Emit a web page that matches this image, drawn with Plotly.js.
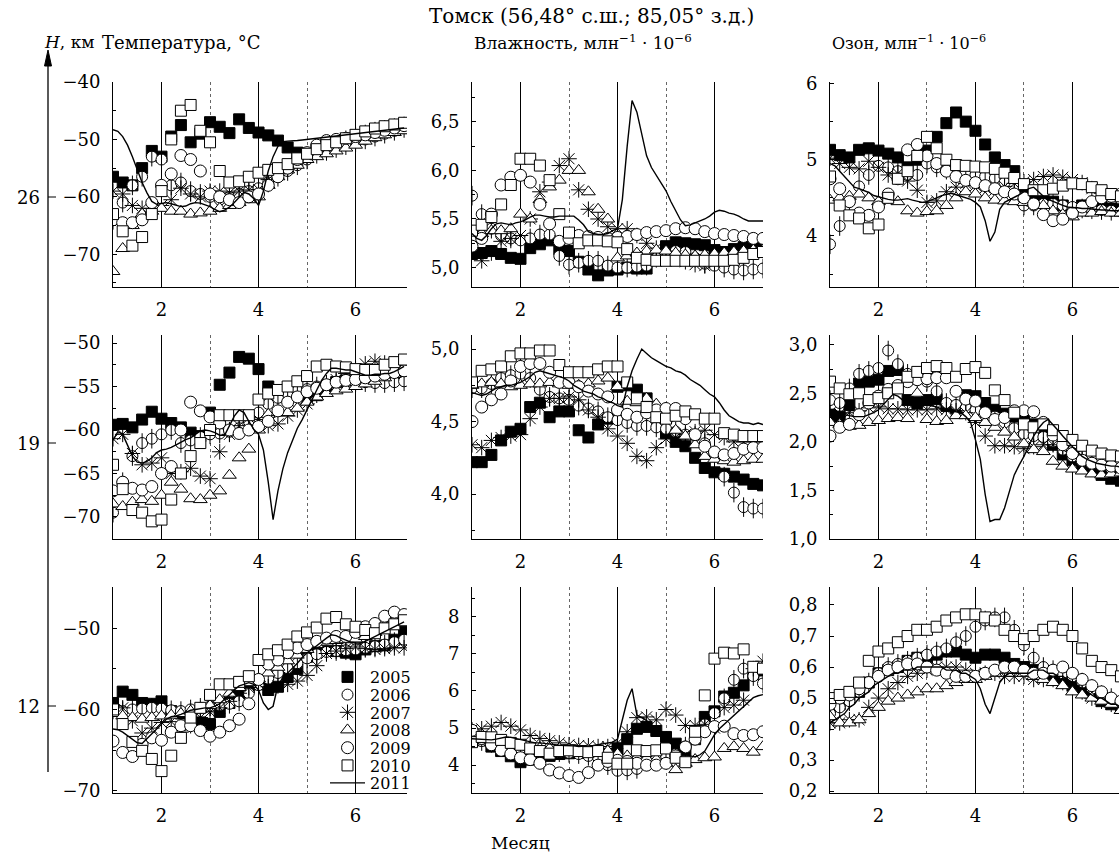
<!DOCTYPE html>
<html>
<head>
<meta charset="utf-8">
<script src="https://cdn.plot.ly/plotly-3.0.1.min.js"></script>
<style>html,body{margin:0;padding:0;background:#fff}#chart{width:1119px;height:854px}</style>
</head>
<body>
<div id="chart"></div>
<script>
// ---------- DATA ----------
const X = [1,1.2,1.4,1.6,1.8,2,2.2,2.4,2.6,2.8,3,3.2,3.4,3.6,3.8,4,4.2,4.4,4.6,4.8,5,5.2,5.4,5.6,5.8,6,6.2,6.4,6.6,6.8,7];
const XL = [1,1.1,1.2,1.3,1.4,1.5,1.6,1.7,1.8,1.9,2,2.1,2.2,2.3,2.4,2.5,2.6,2.7,2.8,2.9,3,3.1,3.2,3.3,3.4,3.5,3.6,3.7,3.8,3.9,4,4.1,4.2,4.3,4.4,4.5,4.6,4.7,4.8,4.9,5,5.1,5.2,5.3,5.4,5.5,5.6,5.7,5.8,5.9,6,6.1,6.2,6.3,6.4,6.5,6.6,6.7,6.8,6.9,7];
const YEARS = ['2005','2006','2007','2008','2009','2010','2011'];

// Temperature, 26 km
const t1_05 = [-56.5,-57.5,-58,-55,-52,-53,-49.5,-47.5,-50.5,-49,-47,-47.8,-48.9,-46.5,-48,-48.8,-49.3,-50.2,-51.4,-52.3,-52.5,-52,-51.5,-51,-50.5,-50,-49.5,-49,-48.7,-48.3,-48];
const t1_06 = [-64,-61,-58,-56.5,-53,-53.5,-58,-57.5,-59,-59.5,-60,-60.5,-60,-59.5,-59,-58.5,-57.5,-56.5,-55.5,-54.5,-53.5,-52.5,-52,-51.5,-51,-50.5,-50,-49.5,-49,-48.5,-48];
const t1_07 = [-59,-59.5,-61.5,-62,-62,-61.5,-60.5,-58.5,-59.5,-60,-59,-59,-59.3,-59,-58.8,-58.7,-57,-56,-55,-54,-53,-52.2,-51.3,-50.5,-49.8,-49.2,-48.8,-48.3,-48,-47.7,-47.4];
const t1_08 = [-73,-69,-65,-63,-62.5,-62,-62.5,-62.5,-63,-62.8,-62.5,-62,-61.5,-61,-60.5,-60,-58,-56.5,-55.3,-54.5,-53.5,-53,-52.5,-52,-51.5,-51,-50.3,-49.7,-49.2,-48.8,-48.5];
const t1_09 = [-64,-64.5,-64.5,-64,-61,-58,-56,-52.8,-53.5,-55.5,-59.5,-60,-60.5,-61,-60,-59.5,-58,-56.5,-55,-53.5,-52.3,-51,-50.2,-50,-49.8,-49.5,-49.2,-48.8,-48.4,-48,-47.6];
const t1_10 = [-63,-66,-68.5,-67,-63,-59,-50,-45,-44,-48.5,-50.5,-55.5,-57.5,-57.3,-56.5,-55.8,-55.3,-55,-54.3,-53.3,-52.5,-51.7,-51,-50.5,-49.8,-49.2,-48.6,-48.1,-47.7,-47.4,-47.1];
const t1_11 = [-48.3,-48.6,-49.5,-51,-53,-55.3,-57.5,-59.3,-60.8,-61.3,-61.2,-61,-61.2,-61.5,-61.7,-61.6,-61.2,-61,-61.1,-61.4,-61.7,-62.2,-62.6,-62.3,-61.8,-61,-60,-59.2,-59.5,-60.3,-61.5,-59,-55.5,-53,-51.2,-50.4,-50.3,-50.3,-50.2,-50.1,-50,-49.9,-49.8,-49.7,-49.6,-49.5,-49.4,-49.3,-49.2,-49.1,-49,-48.9,-48.8,-48.7,-48.6,-48.5,-48.4,-48.3,-48.2,-48.1,-48];

// Humidity, 26 km
const h1_05 = [5.14,5.15,5.17,5.14,5.1,5.09,5.2,5.24,5.28,5.19,5.17,5.06,4.98,4.92,4.97,4.98,5.0,4.99,4.99,5.1,5.22,5.26,5.25,5.24,5.23,5.18,5.16,5.19,5.21,5.22,5.2];
const h1_06 = [5.74,5.55,5.4,5.33,5.3,5.28,5.3,5.34,5.34,5.12,5.03,5.05,5.07,5.07,5.02,5.0,5.0,5.01,5.02,5.1,5.15,5.17,5.16,5.1,5.04,5.02,5.0,4.98,4.97,4.98,4.99];
const h1_07 = [5.2,5.07,5.15,5.27,5.3,5.33,5.5,5.78,5.88,6.05,6.12,5.8,5.6,5.5,5.42,5.4,5.4,5.33,5.25,5.2,5.17,5.12,5.06,5.03,5.02,5.05,5.1,5.13,5.15,5.18,5.2];
const h1_08 = [5.3,5.35,5.38,5.38,5.4,5.55,5.5,5.7,5.83,5.9,6.0,6.0,5.78,5.6,5.5,5.1,5.12,5.15,5.17,5.18,5.17,5.15,5.13,5.12,5.13,5.14,5.15,5.16,5.17,5.18,5.18];
const h1_09 = [5.22,5.3,5.55,5.85,5.93,5.95,5.88,5.65,5.45,5.27,5.3,5.33,5.32,5.31,5.3,5.31,5.32,5.34,5.36,5.37,5.38,5.4,5.41,5.4,5.37,5.35,5.34,5.33,5.32,5.3,5.3];
const h1_10 = [5.38,5.44,5.52,5.65,5.85,6.12,6.12,6.05,5.9,5.55,5.36,5.25,5.28,5.28,5.27,5.26,5.19,5.1,5.08,5.07,5.07,5.07,5.07,5.07,5.07,5.07,5.07,5.08,5.1,5.14,5.16];
const h1_11 = [5.35,5.3,5.28,5.33,5.4,5.45,5.46,5.45,5.44,5.46,5.47,5.49,5.52,5.54,5.54,5.53,5.52,5.52,5.53,5.53,5.53,5.53,5.49,5.44,5.37,5.35,5.34,5.34,5.35,5.38,5.4,5.7,6.25,6.72,6.6,6.38,6.15,6.03,5.95,5.87,5.79,5.68,5.58,5.49,5.43,5.44,5.46,5.48,5.5,5.53,5.57,5.59,5.58,5.56,5.55,5.53,5.5,5.48,5.48,5.48,5.48];

// Ozone, 26 km
const o1_05 = [5.13,5.06,5.03,5.13,5.15,5.12,5.08,5.03,4.9,5.0,5.12,5.3,5.48,5.62,5.5,5.38,5.2,5.03,4.93,4.85,4.6,4.52,4.48,4.45,4.4,4.33,4.4,4.4,4.38,4.36,4.35];
const o1_06 = [3.89,4.13,4.45,4.65,4.8,4.92,4.9,4.85,4.8,4.8,4.95,4.9,4.87,4.84,4.82,4.8,4.78,4.76,4.7,4.55,4.4,4.4,4.42,4.42,4.4,4.38,4.36,4.35,4.34,4.33,4.32];
const o1_07 = [5.02,4.95,4.9,4.88,4.98,4.9,4.8,4.82,4.72,4.6,4.44,4.46,4.58,4.64,4.69,4.66,4.63,4.6,4.65,4.69,4.71,4.74,4.78,4.8,4.77,4.74,4.7,4.62,4.56,4.52,4.5];
const o1_08 = [4.47,4.5,4.52,4.55,4.5,4.45,4.48,4.45,4.33,4.3,4.32,4.33,4.4,4.5,4.58,4.55,4.5,4.47,4.46,4.45,4.44,4.43,4.4,4.33,4.28,4.25,4.3,4.3,4.32,4.3,4.3];
const o1_09 = [4.75,4.62,4.45,4.3,4.27,4.38,4.55,4.75,5.13,5.2,5.05,4.95,4.85,4.78,4.73,4.7,4.66,4.62,4.58,4.55,4.5,4.42,4.28,4.2,4.22,4.3,4.38,4.45,4.5,4.52,4.55];
const o1_10 = [4.78,4.4,4.27,4.23,4.1,4.15,4.5,4.75,4.85,5.05,5.3,5.15,5.0,4.93,4.92,4.91,4.9,4.88,4.83,4.76,4.68,4.6,4.6,4.62,4.66,4.69,4.68,4.64,4.6,4.55,4.52];
const o1_11 = [4.95,4.92,4.85,4.78,4.7,4.64,4.62,4.6,4.57,4.53,4.51,4.5,4.48,4.47,4.47,4.48,4.49,4.47,4.45,4.44,4.45,4.47,4.5,4.53,4.55,4.56,4.54,4.52,4.51,4.48,4.44,4.38,4.2,3.93,4.05,4.35,4.44,4.47,4.5,4.54,4.58,4.62,4.64,4.58,4.52,4.48,4.45,4.42,4.4,4.38,4.37,4.37,4.36,4.36,4.35,4.35,4.34,4.34,4.33,4.33,4.33];

// Temperature, 19 km
const t2_05 = [-59.4,-59.3,-59.7,-58.8,-57.9,-58.7,-59.2,-59.7,-60.3,-60.7,-58,-54.8,-53.4,-51.6,-51.8,-53,-55,-55.5,-55.8,-56,-56.2,-56,-55.2,-54.5,-54.3,-54.2,-54.1,-54,-53.9,-53.9,-53.8];
const t2_06 = [-69.5,-66,-63,-61.5,-61,-60.5,-60,-61.5,-61.2,-60.8,-60.5,-60.4,-60.2,-59.8,-59,-58,-57,-56.3,-55.8,-55.5,-55.3,-55,-54.8,-54.6,-54.5,-54.5,-54.5,-54.6,-54.6,-54.5,-54.4];
const t2_07 = [-61,-60.5,-62.7,-64,-63.8,-63.2,-65,-64.8,-64.4,-65.3,-65.6,-62.5,-60.5,-59.5,-58.6,-58.8,-59.5,-59.3,-58.4,-57.7,-57,-56,-55,-54.2,-53.5,-53,-52.4,-52.1,-52.3,-52.8,-53];
const t2_08 = [-68.5,-68.8,-68.3,-68,-68.2,-67.5,-66,-66.8,-67.9,-68,-67.5,-67,-65.2,-63.2,-62.2,-60,-58.2,-58,-58,-57.5,-56.8,-56.2,-55.8,-55.5,-55.3,-55,-54.7,-54.4,-54,-53.6,-53.3];
const t2_09 = [-67,-66,-66.7,-66.9,-66.5,-65,-64.2,-60,-56.8,-57.8,-58.5,-59.2,-60,-60.4,-60,-59.6,-59,-57.8,-56.8,-56.2,-55.6,-55.2,-54.8,-54.5,-54.3,-54.2,-54,-53.8,-53.6,-53.4,-53.2];
const t2_10 = [-64,-66.8,-69.2,-69.5,-70.5,-70.3,-68,-65,-63,-61.5,-60,-58.3,-58.3,-58.3,-58.3,-56.5,-55.8,-55.4,-55,-54.4,-53.8,-52.7,-52.5,-52.7,-52.8,-53,-53.1,-53.1,-52.5,-52.2,-51.9];
const t2_11 = [-61.2,-60.2,-60.5,-61.8,-63,-63.7,-63.8,-63.6,-63.2,-62.6,-62.3,-62.2,-62,-61.7,-61.4,-61.1,-60.9,-60.5,-60.1,-60,-60.1,-60.3,-60.6,-60.6,-59.5,-58.4,-57.7,-58,-59,-59.9,-60.5,-62.3,-66,-70.3,-67,-64.5,-62.6,-61.2,-59.8,-58.8,-57.6,-56.6,-55.4,-54.3,-53.5,-52.9,-52.9,-53,-53.1,-53.1,-53.3,-53.5,-53.7,-53.7,-53.6,-53.6,-53.5,-53.5,-53.3,-53,-52.7];

// Humidity, 19 km
const h2_05 = [4.22,4.22,4.27,4.37,4.43,4.45,4.6,4.63,4.53,4.57,4.57,4.44,4.39,4.48,4.52,4.74,4.75,4.72,4.66,4.58,4.42,4.36,4.33,4.25,4.18,4.15,4.14,4.12,4.1,4.07,4.06];
const h2_06 = [4.73,4.73,4.76,4.8,4.82,4.83,4.8,4.72,4.67,4.66,4.65,4.61,4.59,4.57,4.53,4.51,4.49,4.47,4.47,4.46,4.45,4.43,4.41,4.4,4.35,4.27,4.12,4.01,3.91,3.9,3.9];
const h2_07 = [4.34,4.32,4.37,4.39,4.4,4.41,4.52,4.6,4.66,4.66,4.67,4.65,4.58,4.53,4.45,4.4,4.35,4.26,4.23,4.32,4.38,4.39,4.41,4.43,4.44,4.41,4.39,4.36,4.36,4.36,4.36];
const h2_08 = [4.75,4.76,4.77,4.76,4.74,4.75,4.76,4.76,4.77,4.76,4.75,4.75,4.76,4.78,4.8,4.74,4.64,4.63,4.66,4.62,4.52,4.44,4.4,4.34,4.26,4.24,4.23,4.22,4.23,4.24,4.24];
const h2_09 = [4.5,4.6,4.65,4.69,4.78,4.88,4.9,4.9,4.84,4.77,4.77,4.74,4.71,4.69,4.67,4.58,4.55,4.53,4.56,4.58,4.59,4.59,4.52,4.41,4.33,4.29,4.27,4.28,4.31,4.32,4.32];
const h2_10 = [4.77,4.85,4.86,4.88,4.95,4.97,4.97,4.99,4.99,4.89,4.84,4.84,4.84,4.86,4.88,4.88,4.77,4.66,4.6,4.53,4.52,4.54,4.57,4.55,4.52,4.52,4.42,4.41,4.4,4.4,4.4];
const h2_11 = [4.7,4.69,4.68,4.69,4.71,4.73,4.74,4.75,4.75,4.76,4.77,4.79,4.81,4.84,4.85,4.84,4.83,4.82,4.81,4.8,4.78,4.75,4.73,4.71,4.7,4.69,4.67,4.66,4.64,4.63,4.61,4.6,4.74,4.85,4.93,5.0,4.97,4.94,4.92,4.9,4.88,4.87,4.85,4.84,4.82,4.79,4.77,4.75,4.72,4.69,4.67,4.63,4.58,4.54,4.52,4.5,4.49,4.49,4.48,4.49,4.48];

// Ozone, 19 km
const o2_05 = [2.28,2.26,2.38,2.6,2.62,2.64,2.73,2.74,2.43,2.4,2.43,2.44,2.37,2.35,2.48,2.47,2.4,2.33,2.29,2.26,2.22,2.18,2.1,1.97,1.87,1.81,1.75,1.7,1.66,1.62,1.6];
const o2_06 = [2.43,2.4,2.55,2.7,2.73,2.76,2.94,2.8,2.7,2.64,2.62,2.52,2.4,2.38,2.35,2.33,2.3,2.26,2.2,2.14,2.08,2.06,2.05,2.0,1.92,1.85,1.8,1.77,1.75,1.72,1.7];
const o2_07 = [2.3,2.29,2.3,2.32,2.35,2.36,2.34,2.34,2.33,2.33,2.33,2.34,2.33,2.32,2.3,2.2,2.06,1.96,1.96,1.95,1.93,1.95,1.97,1.97,1.95,1.9,1.83,1.78,1.75,1.72,1.7];
const o2_08 = [2.2,2.18,2.16,2.17,2.2,2.22,2.24,2.25,2.24,2.5,2.23,2.21,2.22,2.27,2.27,2.25,2.2,2.15,2.1,2.05,1.98,1.92,1.9,1.8,1.75,1.72,1.7,1.67,1.66,1.67,1.68];
const o2_09 = [2.06,2.15,2.18,2.28,2.4,2.47,2.54,2.58,2.62,2.64,2.65,2.66,2.66,2.52,2.44,2.42,2.3,2.23,2.25,2.32,2.32,2.31,2.2,2.07,1.97,1.88,1.81,1.78,1.76,1.75,1.73];
const o2_10 = [2.62,2.55,2.49,2.5,2.43,2.45,2.5,2.55,2.67,2.72,2.76,2.78,2.76,2.67,2.75,2.77,2.71,2.53,2.43,2.3,2.18,2.15,2.18,2.12,2.06,2.02,1.96,1.91,1.88,1.86,1.85];
const o2_11 = [2.33,2.32,2.3,2.28,2.27,2.26,2.26,2.26,2.28,2.3,2.33,2.38,2.44,2.49,2.47,2.43,2.41,2.4,2.39,2.38,2.38,2.37,2.36,2.34,2.33,2.32,2.31,2.3,2.26,2.2,2.02,1.82,1.46,1.18,1.2,1.2,1.32,1.5,1.66,1.76,1.85,1.96,2.06,2.14,2.2,2.23,2.18,2.12,2.06,2.0,1.95,1.9,1.85,1.82,1.8,1.78,1.77,1.76,1.75,1.75,1.74];

// Temperature, 12 km
const t3_05 = [-59.2,-57.8,-58.2,-59.2,-59.3,-59,-60.2,-60.5,-60.8,-61.6,-61.8,-60.3,-59.2,-58.3,-57.3,-56.9,-57.6,-57.2,-56,-55,-53.5,-52.3,-52.5,-52.8,-53,-53.2,-52.6,-52.2,-52.1,-51.4,-50.4];
const t3_06 = [-60,-60.2,-60,-59.9,-59.8,-59.9,-60.1,-60.2,-60,-59.8,-59.6,-59.5,-59.3,-59,-58,-57,-56.2,-55.5,-54.9,-54.3,-53.7,-53.2,-52.9,-52.8,-52.7,-52.6,-52.4,-52.2,-52,-51.7,-51.4];
const t3_07 = [-59.5,-59.8,-61.4,-62.9,-62.3,-61.6,-61.5,-62.8,-62,-61,-60.3,-59.8,-59,-58,-57.3,-56.8,-57.2,-57.1,-56.9,-56.5,-55.8,-54.6,-53.1,-52.8,-52.5,-52.3,-52.5,-52.6,-52.5,-52.4,-52.4];
const t3_08 = [-60.5,-60.8,-61,-61.2,-61,-60.8,-60.7,-60.5,-60.2,-60,-59.5,-58.8,-58,-57.3,-56.7,-56.2,-55.5,-54.8,-54,-53.3,-52.6,-52,-51.7,-51.5,-51.4,-51.3,-51,-50.5,-49.7,-49,-48.5];
const t3_09 = [-63.9,-65.3,-65.8,-64.3,-63.5,-63.8,-62.8,-62,-62,-62.6,-63.3,-62.8,-62,-61.2,-59.3,-56.3,-54.4,-53.9,-53,-52.4,-52,-51.6,-51.2,-51,-51,-50.5,-49.8,-49.4,-48.5,-48,-48.3];
const t3_10 = [-60,-61.8,-64,-65.1,-66.1,-67.6,-65.7,-63.5,-61,-59.8,-58.2,-56.9,-56.9,-56.6,-55.9,-53.9,-53.2,-52.7,-52,-51,-50.5,-49.9,-48.8,-48.6,-49.5,-49.8,-50.2,-50.6,-50,-49.5,-49];
const t3_11 = [-62.4,-62.5,-62.8,-63.2,-63.7,-64.1,-64.2,-63.6,-62.9,-62.3,-61.7,-61.2,-60.9,-60.8,-60.6,-60.3,-60.1,-60,-59.9,-59.8,-59.8,-59.6,-59.3,-58.8,-58.2,-57.6,-57.1,-56.9,-56.7,-56.9,-57.6,-59.2,-60,-59.6,-57,-56.1,-55.5,-55,-54.3,-53.6,-53,-52.6,-52.1,-51.6,-51.2,-50.8,-50.9,-51.2,-51.5,-51.7,-51.8,-51.8,-51.6,-51.3,-51,-50.7,-50.4,-50.1,-49.8,-49.5,-49.2];

// Humidity, 12 km
const h3_05 = [4.8,4.67,4.5,4.38,4.24,4.08,4.15,4.2,4.25,4.3,4.32,4.33,4.33,4.32,4.3,4.45,4.7,4.98,5.03,4.92,4.76,4.58,4.4,4.7,5.3,5.45,5.85,5.95,6.15,6.45,6.55];
const h3_06 = [4.75,4.65,4.6,4.55,4.5,4.45,4.42,4.4,4.38,4.35,4.33,4.3,4.25,4.2,4.0,3.85,3.86,3.9,4.1,4.2,4.25,4.3,4.5,4.8,5.1,5.4,5.8,6.3,6.6,6.4,6.2];
const h3_07 = [4.95,4.98,5.05,5.15,5.05,4.95,4.8,4.72,4.66,4.6,4.55,4.53,4.52,4.5,4.5,4.6,4.9,5.28,5.3,5.22,5.5,5.35,5.07,5.07,5.1,5.0,5.55,5.62,5.75,6.6,6.8];
const h3_08 = [4.7,4.65,4.6,4.55,4.52,4.5,4.48,4.46,4.45,4.45,4.44,4.43,4.42,4.4,4.38,4.3,4.25,4.2,4.18,4.15,4.05,3.88,4.05,4.15,4.2,4.22,4.45,4.5,4.45,4.35,4.5];
const h3_09 = [4.94,4.72,4.55,4.4,4.3,4.2,4.15,4.05,3.87,3.79,3.72,3.67,3.8,4.0,4.1,4.13,4.1,4.05,4.0,4.0,4.05,4.25,4.49,4.7,4.9,5.04,5.05,4.85,4.8,4.82,4.9];
const h3_10 = [4.62,4.76,4.75,4.68,4.6,4.55,4.45,4.38,4.31,4.38,4.4,4.38,4.35,4.38,4.2,4.04,4.04,4.4,4.38,4.4,4.45,4.2,4.08,4.9,5.88,6.87,7.03,7.01,7.12,6.65,6.6];
const h3_11 = [4.71,4.7,4.68,4.67,4.68,4.7,4.73,4.76,4.75,4.72,4.68,4.65,4.62,4.6,4.6,4.58,4.56,4.55,4.54,4.53,4.53,4.52,4.5,4.5,4.52,4.53,4.55,4.56,4.58,4.62,4.7,5.2,5.75,6.06,5.35,5.28,5.2,5.08,4.95,4.83,4.72,4.58,4.48,4.38,4.3,4.25,4.22,4.28,4.38,4.6,4.82,4.98,5.1,5.22,5.35,5.48,5.6,5.72,5.82,5.87,5.9];

// Ozone, 12 km
const o3_05 = [0.47,0.48,0.5,0.52,0.55,0.58,0.59,0.6,0.62,0.63,0.63,0.64,0.65,0.65,0.64,0.63,0.64,0.64,0.63,0.61,0.6,0.59,0.58,0.57,0.56,0.54,0.53,0.51,0.49,0.48,0.47];
const o3_06 = [0.45,0.47,0.49,0.52,0.55,0.58,0.6,0.61,0.62,0.63,0.64,0.65,0.66,0.68,0.7,0.73,0.75,0.76,0.76,0.72,0.67,0.63,0.6,0.59,0.58,0.57,0.55,0.53,0.51,0.5,0.49];
const o3_07 = [0.42,0.42,0.43,0.43,0.47,0.5,0.53,0.55,0.57,0.58,0.59,0.6,0.6,0.6,0.59,0.58,0.58,0.58,0.57,0.57,0.57,0.56,0.56,0.56,0.55,0.54,0.52,0.5,0.49,0.48,0.47];
const o3_08 = [0.44,0.42,0.42,0.43,0.45,0.47,0.49,0.5,0.51,0.52,0.53,0.53,0.54,0.55,0.56,0.56,0.57,0.58,0.59,0.59,0.58,0.57,0.56,0.55,0.54,0.52,0.51,0.5,0.49,0.48,0.46];
const o3_09 = [0.48,0.5,0.51,0.53,0.55,0.57,0.59,0.6,0.61,0.61,0.6,0.59,0.58,0.57,0.57,0.57,0.58,0.59,0.6,0.6,0.59,0.58,0.58,0.59,0.6,0.58,0.56,0.54,0.52,0.5,0.49];
const o3_10 = [0.5,0.51,0.52,0.55,0.62,0.65,0.66,0.68,0.7,0.72,0.72,0.73,0.75,0.76,0.77,0.77,0.76,0.75,0.72,0.7,0.69,0.7,0.72,0.73,0.72,0.7,0.66,0.62,0.6,0.59,0.57];
const o3_11 = [0.42,0.43,0.44,0.45,0.47,0.48,0.5,0.51,0.52,0.54,0.55,0.56,0.57,0.58,0.58,0.59,0.59,0.59,0.6,0.6,0.6,0.6,0.6,0.6,0.59,0.59,0.59,0.58,0.58,0.57,0.56,0.53,0.48,0.45,0.5,0.55,0.57,0.58,0.58,0.58,0.58,0.58,0.59,0.59,0.59,0.58,0.58,0.57,0.57,0.56,0.55,0.54,0.53,0.52,0.51,0.5,0.5,0.49,0.48,0.48,0.47];

// Tick labels
const yTickVals = [
  [-70,-60,-50,-40], [5,5.5,6,6.5], [4,5,6],
  [-70,-65,-60,-55,-50], [4,4.5,5], [1,1.5,2,2.5,3],
  [-70,-60,-50], [4,5,6,7,8], [0.2,0.3,0.4,0.5,0.6,0.7,0.8]
];
const yTickText = [
  ['−70','−60','−50','−40'], ['5,0','5,5','6,0','6,5'], ['4','5','6'],
  ['−70','−65','−60','−55','−50'], ['4,0','4,5','5,0'], ['1,0','1,5','2,0','2,5','3,0'],
  ['−70','−60','−50'], ['4','5','6','7','8'], ['0,2','0,3','0,4','0,5','0,6','0,7','0,8']
];
const xTickVals = [2,4,6];
const xTickText = ['2','4','6'];
const heightLabels = ['26','19','12'];

// ---------- LAYOUT / STYLE ----------
const W = 1119, H = 854;
const FONT = 'DejaVu Serif';
const FS = 18;
const colPx = [[113,407],[472,763],[830,1119]];
const rowPx = [[82,287],[335,539],[587,793]];
const rowMid = [197,443,706];
const xRanges = [[1,7.06],[1,7.0],[1,6.96]];
const yRanges = [[-75.7,-40],[4.8,6.91],[3.33,6.02],[-72.53,-49.08],[3.69,5.097],[1.0,3.1],[-70.3,-44.9],[3.25,8.8],[0.194,0.858]];
const yMinor = [5,0.25,0.5,2.5,0.25,0.25,5,0.5,null];
const legendY = [677,694.7,712.4,730,747.8,765.5,783];

const panels = [
  [t1_05,t1_06,t1_07,t1_08,t1_09,t1_10,t1_11],
  [h1_05,h1_06,h1_07,h1_08,h1_09,h1_10,h1_11],
  [o1_05,o1_06,o1_07,o1_08,o1_09,o1_10,o1_11],
  [t2_05,t2_06,t2_07,t2_08,t2_09,t2_10,t2_11],
  [h2_05,h2_06,h2_07,h2_08,h2_09,h2_10,h2_11],
  [o2_05,o2_06,o2_07,o2_08,o2_09,o2_10,o2_11],
  [t3_05,t3_06,t3_07,t3_08,t3_09,t3_10,t3_11],
  [h3_05,h3_06,h3_07,h3_08,h3_09,h3_10,h3_11],
  [o3_05,o3_06,o3_07,o3_08,o3_09,o3_10,o3_11]
];

const BL = {color:'#000', width:1};
const markerStyles = [
  {symbol:'square', size:11, color:'#000', line:BL},
  {symbol:'circle', size:11, color:'#fff', line:BL},
  {symbol:'asterisk-open', size:13, color:'#000', line:BL},
  {symbol:'triangle-up', size:12, color:'#fff', line:BL},
  {symbol:'circle', size:12, color:'#fff', line:BL},
  {symbol:'square', size:11, color:'#fff', line:BL}
];

const px = v => v / W, py = v => 1 - v / H;
const legendName = j => j === 0 ? 'legend' : 'legend' + (j + 1);

const traces = [];
const layout = {
  width: W, height: H,
  margin: {l:0, r:0, t:0, b:0},
  paper_bgcolor: '#fff', plot_bgcolor: '#fff',
  font: {family: FONT, size: FS, color: '#000'},
  showlegend: true,
  shapes: [], annotations: []
};
// one single-entry legend per year, stacked to match the reference's line spacing
YEARS.forEach((yr, j) => {
  layout[legendName(j)] = {
    x: px(325), y: py(legendY[j]), xanchor: 'left', yanchor: 'middle',
    bgcolor: 'rgba(0,0,0,0)', borderwidth: 0,
    font: {family: FONT, size: 16, color: '#000'},
    itemwidth: 35, tracegroupgap: 0
  };
});

panels.forEach((p, i) => {
  const k = i + 1, r = Math.floor(i / 3), c = i % 3;
  const sfx = k === 1 ? '' : String(k);
  const xa = 'x' + sfx, ya = 'y' + sfx;
  for (let j = 0; j < 6; j++) {
    traces.push({
      type: 'scatter', mode: 'markers', x: X, y: p[j], xaxis: xa, yaxis: ya,
      name: YEARS[j], showlegend: k === 7, legend: legendName(j),
      marker: markerStyles[j], hoverinfo: 'skip'
    });
    if (j === 1) {
      traces.push({
        type: 'scatter', mode: 'markers', x: X, y: p[j], xaxis: xa, yaxis: ya,
        name: YEARS[j], showlegend: false, legend: legendName(j),
        marker: {symbol: 'line-ns-open', size: 14, color: '#000', line: BL}, hoverinfo: 'skip'
      });
    }
  }
  traces.push({
    type: 'scatter', mode: 'lines', x: XL, y: p[6], xaxis: xa, yaxis: ya,
    name: YEARS[6], showlegend: k === 7, legend: legendName(6),
    line: {color: '#000', width: 1.4}, hoverinfo: 'skip'
  });

  layout['xaxis' + sfx] = {
    domain: [colPx[c][0]/W, colPx[c][1]/W], range: xRanges[c], anchor: ya,
    tickmode: 'array', tickvals: xTickVals, ticktext: xTickText,
    showgrid: true, gridcolor: '#000', gridwidth: 1,
    minor: {tickmode: 'array', tickvals: [3,5], showgrid: true, gridcolor: '#666', griddash: 'dot', gridwidth: 1, ticks: ''},
    showline: true, linecolor: '#000', linewidth: 1, ticks: '', zeroline: false,
    tickfont: {family: FONT, size: FS, color: '#000'}, ticklabelstandoff: 6, fixedrange: true
  };
  const yax = {
    domain: [1 - rowPx[r][1]/H, 1 - rowPx[r][0]/H], range: yRanges[i], anchor: xa,
    tickmode: 'array', tickvals: yTickVals[i], ticktext: yTickText[i],
    ticks: 'inside', ticklen: 4, tickcolor: '#000', tickwidth: 1,
    showline: true, linecolor: '#000', linewidth: 1, showgrid: false, zeroline: false,
    tickfont: {family: FONT, size: FS, color: '#000'}, ticklabelstandoff: 8, fixedrange: true
  };
  if (yMinor[i]) yax.minor = {tickmode: 'linear', tick0: 0, dtick: yMinor[i], ticks: 'inside', ticklen: 3, tickcolor: '#000', showgrid: false};
  layout['yaxis' + sfx] = yax;
});

// Height axis (arrow) on the left
layout.shapes.push({type:'line', xref:'paper', yref:'paper', x0:px(48), x1:px(48), y0:py(772), y1:py(62), line:{color:'#000', width:1.3}});
layout.shapes.push({type:'path', xref:'paper', yref:'paper',
  path:`M ${px(48)} ${py(50)} L ${px(44.5)} ${py(66)} L ${px(51.5)} ${py(66)} Z`, fillcolor:'#000', line:{color:'#000', width:1}});
rowMid.forEach((y, i) => {
  layout.shapes.push({type:'line', xref:'paper', yref:'paper', x0:px(48), x1:px(56), y0:py(y), y1:py(y), line:{color:'#000', width:1}});
  layout.annotations.push({xref:'paper', yref:'paper', x:px(28), y:py(y), text:heightLabels[i], showarrow:false, xanchor:'center', yanchor:'middle', font:{family:FONT, size:FS}});
});

const ann = (x, y, text, xanchor, size) => layout.annotations.push({xref:'paper', yref:'paper', x:px(x), y:py(y), text, showarrow:false, xanchor:xanchor||'center', yanchor:'middle', font:{family:FONT, size:size||17, color:'#000'}});
ann(591, 16, 'Томск (56,48° с.ш.; 85,05° з.д.)', 'center', 20);
ann(42, 42, '<i>H</i>, км', 'left', 17);
ann(100, 42, 'Температура, °C', 'left', 18);
ann(472, 42, 'Влажность, млн<sup>−1</sup> · 10<sup>−6</sup>', 'left', 17);
ann(830, 42, 'Озон, млн<sup>−1</sup> · 10<sup>−6</sup>', 'left', 16);
ann(520, 843, 'Месяц', 'center', 17);

Plotly.newPlot('chart', traces, layout, {displayModeBar: false, staticPlot: true});
</script>
</body>
</html>
